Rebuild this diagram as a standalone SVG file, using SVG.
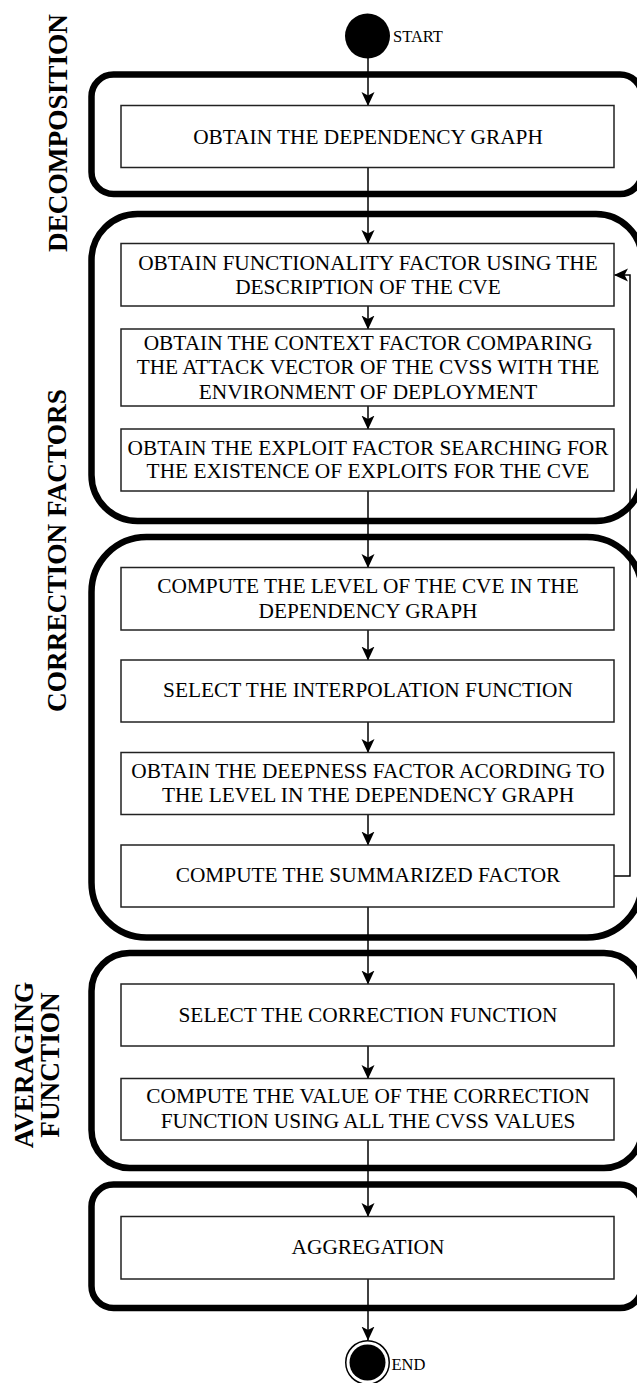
<svg xmlns="http://www.w3.org/2000/svg" width="637" height="1383" viewBox="0 0 637 1383">
<style>
.grp{fill:none;stroke:#000;stroke-width:6.5}
.box{fill:#fff;stroke:#222;stroke-width:1.5}
.t{font-family:"Liberation Serif","Times New Roman",serif;font-size:21.33px;text-anchor:middle;fill:#000}
.lab{font-family:"Liberation Serif","Times New Roman",serif;font-size:27.3px;font-weight:bold;text-anchor:middle;fill:#000}
.small{font-family:"Liberation Serif","Times New Roman",serif;font-size:16.5px;fill:#000}
.edge{fill:none;stroke:#000;stroke-width:1.5}
</style>
<defs>
<marker id="arr" viewBox="0 0 14 14" refX="13.5" refY="7" markerWidth="14" markerHeight="14" markerUnits="userSpaceOnUse" orient="auto">
<path d="M0,0.5 L14,7 L0,13.5 L3.5,7 Z" fill="#000"/>
</marker>
</defs>
<rect width="637" height="1383" fill="#fff"/>

<g id="lanes">
<g id="lane-decomposition">
<rect class="grp" x="91.5" y="74.5" width="550.5" height="119.5" rx="22" ry="22"/>
<text class="lab" transform="translate(66.5,133) rotate(-90)">DECOMPOSITION</text>
</g>
<g id="lane-correction-1">
<rect class="grp" x="91.5" y="214" width="550.5" height="307" rx="46" ry="46"/>
</g>
<g id="lane-correction-2">
<rect class="grp" x="91.5" y="537" width="550.5" height="400.5" rx="55" ry="55"/>
</g>
<text class="lab" transform="translate(66,550.5) rotate(-90)">CORRECTION FACTORS</text>
<g id="lane-averaging">
<rect class="grp" x="91.5" y="953" width="550.5" height="215" rx="38" ry="38"/>
<text class="lab" transform="translate(32.5,1065) rotate(-90)">AVERAGING</text>
<text class="lab" transform="translate(59,1065) rotate(-90)">FUNCTION</text>
</g>
<g id="lane-aggregation">
<rect class="grp" x="91.5" y="1184.5" width="550.5" height="123.5" rx="22" ry="22"/>
</g>
</g>

<g id="connectors">
<line class="edge" x1="368" y1="58" x2="368" y2="105.5" marker-end="url(#arr)"/>
<line class="edge" x1="368" y1="167.5" x2="368" y2="243.5" marker-end="url(#arr)"/>
<line class="edge" x1="368" y1="306" x2="368" y2="329" marker-end="url(#arr)"/>
<line class="edge" x1="368" y1="406" x2="368" y2="429" marker-end="url(#arr)"/>
<line class="edge" x1="368" y1="491" x2="368" y2="567.5" marker-end="url(#arr)"/>
<line class="edge" x1="368" y1="630" x2="368" y2="660" marker-end="url(#arr)"/>
<line class="edge" x1="368" y1="722" x2="368" y2="752.5" marker-end="url(#arr)"/>
<line class="edge" x1="368" y1="814.5" x2="368" y2="845" marker-end="url(#arr)"/>
<line class="edge" x1="368" y1="907" x2="368" y2="984" marker-end="url(#arr)"/>
<line class="edge" x1="368" y1="1046" x2="368" y2="1078.5" marker-end="url(#arr)"/>
<line class="edge" x1="368" y1="1140" x2="368" y2="1216.5" marker-end="url(#arr)"/>
<line class="edge" x1="368" y1="1279" x2="368" y2="1340" marker-end="url(#arr)"/>
<path class="edge" d="M614,876 H630 V275 H614.5" marker-end="url(#arr)"/>
</g>

<g id="start">
<circle cx="367.5" cy="36" r="22.5" fill="#000"/>
<text class="small" x="393" y="41.7" font-size="16">START</text>
</g>

<g id="n-dependency-graph">
<rect class="box" x="121" y="105.5" width="493" height="62"/>
<text class="t" x="368" y="143.5">OBTAIN THE DEPENDENCY GRAPH</text>
</g>

<g id="n-functionality">
<rect class="box" x="121" y="243.5" width="493" height="62.5"/>
<text class="t" x="368" y="270">OBTAIN FUNCTIONALITY FACTOR USING THE</text>
<text class="t" x="368" y="294.3">DESCRIPTION OF THE CVE</text>
</g>

<g id="n-context">
<rect class="box" x="121" y="329" width="493" height="77"/>
<text class="t" x="368" y="350">OBTAIN THE CONTEXT FACTOR COMPARING</text>
<text class="t" x="368" y="374.3">THE ATTACK VECTOR OF THE CVSS WITH THE</text>
<text class="t" x="368" y="399">ENVIRONMENT OF DEPLOYMENT</text>
</g>

<g id="n-exploit">
<rect class="box" x="121" y="429" width="493" height="62"/>
<text class="t" x="368" y="455">OBTAIN THE EXPLOIT FACTOR SEARCHING FOR</text>
<text class="t" x="368" y="478.3">THE EXISTENCE OF EXPLOITS FOR THE CVE</text>
</g>

<g id="n-level">
<rect class="box" x="121" y="567.5" width="493" height="62.5"/>
<text class="t" x="368" y="593.3">COMPUTE THE LEVEL OF THE CVE IN THE</text>
<text class="t" x="368" y="617.7">DEPENDENCY GRAPH</text>
</g>

<g id="n-interpolation">
<rect class="box" x="121" y="660" width="493" height="62"/>
<text class="t" x="368" y="696.7">SELECT THE INTERPOLATION FUNCTION</text>
</g>

<g id="n-deepness">
<rect class="box" x="121" y="752.5" width="493" height="62"/>
<text class="t" x="368" y="777.7">OBTAIN THE DEEPNESS FACTOR ACORDING TO</text>
<text class="t" x="368" y="802">THE LEVEL IN THE DEPENDENCY GRAPH</text>
</g>

<g id="n-summarized">
<rect class="box" x="121" y="845" width="493" height="62"/>
<text class="t" x="368" y="882.3">COMPUTE THE SUMMARIZED FACTOR</text>
</g>

<g id="n-select-correction">
<rect class="box" x="121" y="984" width="493" height="62"/>
<text class="t" x="368" y="1021.7">SELECT THE CORRECTION FUNCTION</text>
</g>

<g id="n-compute-correction">
<rect class="box" x="121" y="1078.5" width="493" height="61.5"/>
<text class="t" x="368" y="1103.3">COMPUTE THE VALUE OF THE CORRECTION</text>
<text class="t" x="368" y="1127.7">FUNCTION USING ALL THE CVSS VALUES</text>
</g>

<g id="n-aggregation">
<rect class="box" x="121" y="1216.5" width="493" height="62.5"/>
<text class="t" x="368" y="1254">AGGREGATION</text>
</g>

<g id="end">
<circle cx="367.5" cy="1362.5" r="21.75" fill="#fff" stroke="#000" stroke-width="1.5"/>
<circle cx="367.5" cy="1362.5" r="18" fill="#000"/>
<text class="small" x="391.5" y="1370" font-size="18">END</text>
</g>
</svg>
